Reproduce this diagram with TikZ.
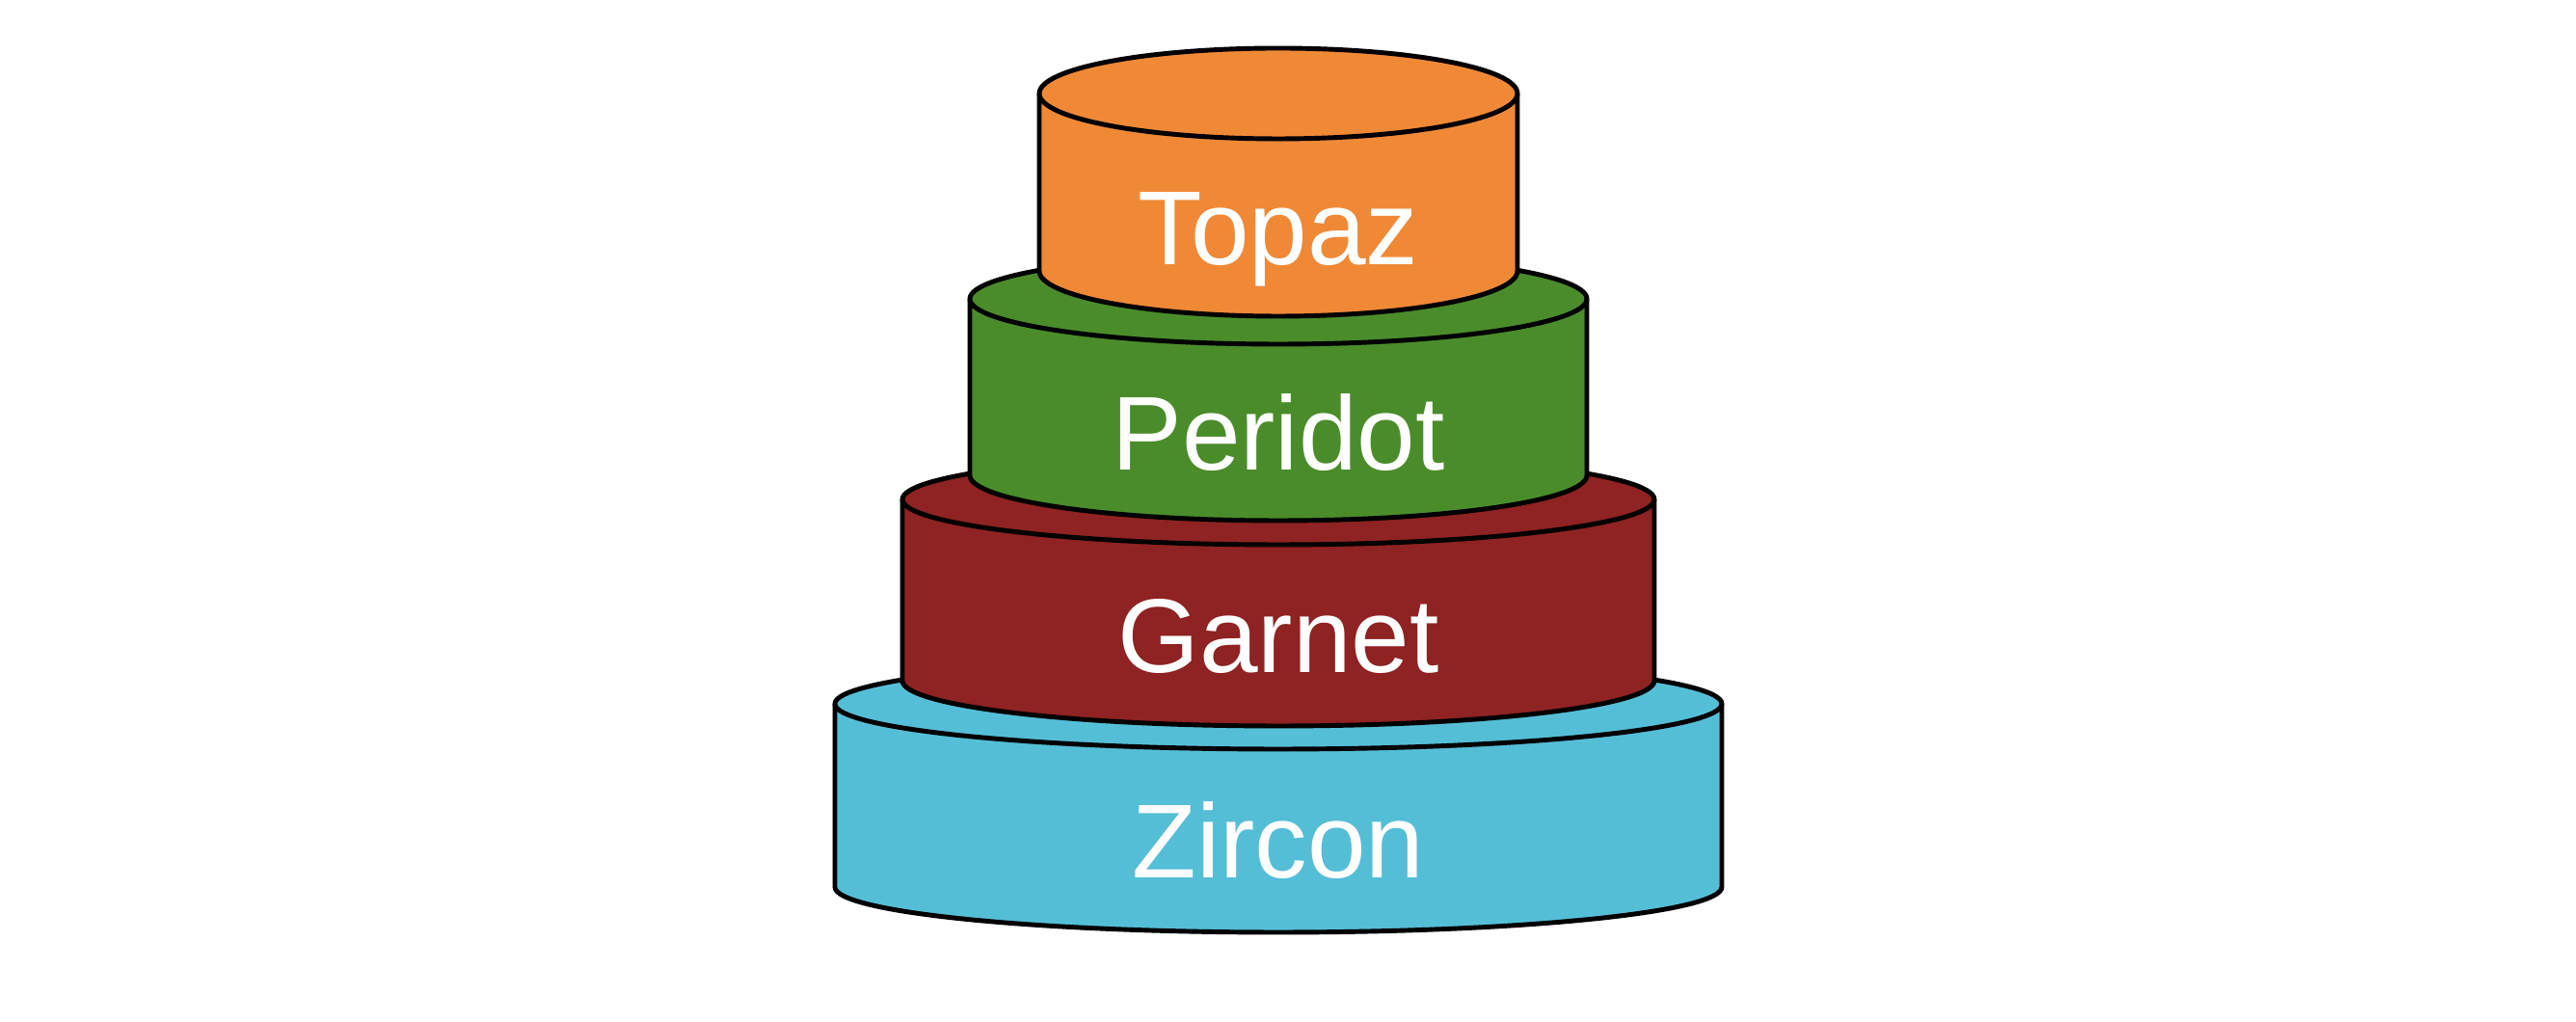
\documentclass[tikz,border=0pt]{standalone}
\usepackage{fontspec}
\setmainfont{Liberation Sans}
\usepackage{xcolor}
\usepackage{tikz}
\usetikzlibrary{positioning}

\definecolor{topazorange}{RGB}{240,137,54}
\definecolor{peridotgreen}{RGB}{75,140,42}
\definecolor{garnetred}{RGB}{143,34,34}
\definecolor{zirconblue}{RGB}{85,190,215}

\tikzset{
  tier line/.style={draw=black, line width=1.4pt, line join=round},
  tier label/.style={anchor=base, text=white, font=\fontsize{31}{36}\selectfont}
}

\begin{document}
\begin{tikzpicture}
\useasboundingbox (0,0) rectangle (26.72,10.6);
% Tiers from the bottom up -- name/half width/top/bottom/colour/label
\foreach \name/\rx/\ytop/\ybot/\col/\lbl in {
    zircon/4.60/3.30/1.40/zirconblue/Zircon,
    garnet/3.90/5.42/3.54/garnetred/Garnet,
    peridot/3.20/7.50/5.67/peridotgreen/Peridot,
    topaz/2.48/9.63/7.79/topazorange/Topaz} {
  % body
  \fill[\col] (13.26-\rx,\ybot) -- (13.26-\rx,\ytop)
      arc[start angle=180, end angle=0, x radius=\rx, y radius=0.47]
      -- (13.26+\rx,\ybot)
      arc[start angle=0, end angle=-180, x radius=\rx, y radius=0.47] -- cycle;
  % sides and front rim
  \draw[tier line] (13.26-\rx,\ytop) -- (13.26-\rx,\ybot)
      arc[start angle=180, end angle=360, x radius=\rx, y radius=0.47]
      -- (13.26+\rx,\ytop);
  % top face
  \draw[tier line] (13.26,\ytop) ellipse[x radius=\rx, y radius=0.47];
  \node[tier label] (\name) at (13.26,{(\ytop+\ybot)/2-0.47-0.39}) {\lbl};
}
\end{tikzpicture}
\end{document}
